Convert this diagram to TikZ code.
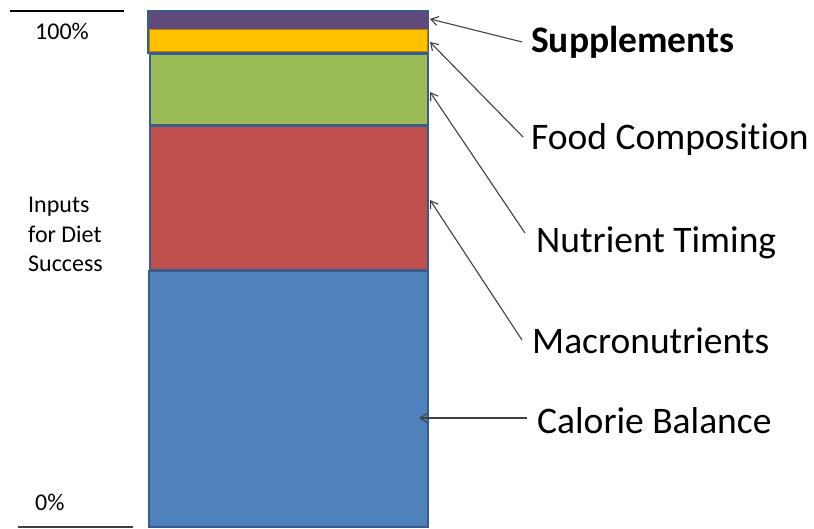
\documentclass[tikz,border=0pt]{standalone}
\usepackage{fontspec}
\setmainfont[Ligatures=NoCommon]{Carlito}
\usetikzlibrary{arrows.meta}
\definecolor{cPurple}{HTML}{604A7B}
\definecolor{cYellow}{HTML}{FFC000}
\definecolor{cGreen}{HTML}{9BBB59}
\definecolor{cRed}{HTML}{C0504D}
\definecolor{cBlue}{HTML}{4F81BD}
\definecolor{cEdge}{HTML}{385D8A}
\definecolor{cArrow}{HTML}{404040}
\begin{document}
\begin{tikzpicture}[x=1pt,y=-1pt,
  seg/.style={draw=cEdge,line width=1.8pt},
  arr/.style={draw=cArrow,line width=1.1pt,-{Straight Barb[length=7pt,width=9pt]}},
  biglabel/.style={anchor=base west,inner sep=0pt,font=\fontsize{37.5}{40}\selectfont},
  smalllabel/.style={anchor=base west,inner sep=0pt,font=\fontsize{24}{29.5}\selectfont},
  rule/.style={draw=black,line width=1.2pt}]
\useasboundingbox (0,0) rectangle (814,529);
% bar segments
\path[seg,fill=cBlue]   (149,271) rectangle (428,527);
\path[seg,fill=cRed]    (150,126) rectangle (428,270);
\path[seg,fill=cGreen]  (150,54)  rectangle (428,125);
\path[seg,fill=cPurple] (148,11)  rectangle (428,53);
\path[draw=cYellow!70!black,line width=1pt,fill=cYellow] (149,30) rectangle (427,52);
% left rules and labels
\draw[rule] (10,11) -- (124,11);
\draw[rule,draw=black!75] (18,527) -- (133,527);
\node[smalllabel] (top) at (35,40) {100\%};
\node[smalllabel] (bot) at (35,510) {0\%};
\node[smalllabel,align=left,anchor=north west] (inp) at (28,197) {Inputs\\for Diet\\Success};
% right labels
\node[biglabel] (supp) at (531,53) {\textbf{Supplements}};
\node[biglabel] (food) at (531,150) {Food Composition};
\node[biglabel] (nutr) at (536,253) {Nutrient Timing};
\node[biglabel] (macro) at (532,353) {Macronutrients};
\node[biglabel] (cal) at (537,433) {Calorie Balance};
% arrow tips on the bar
\coordinate (tS) at (430,19);
\coordinate (tF) at (430,42);
\coordinate (tN) at (430,92);
\coordinate (tM) at (430,200);
\coordinate (tC) at (419,418);
% arrow tails
\coordinate (sS) at (522,42);
\coordinate (sF) at (523,137);
\coordinate (sN) at (525,233);
\coordinate (sM) at (522,340);
\coordinate (sC) at (527,418);
\draw[arr] (sS) -- (tS);
\draw[arr] (sF) -- (tF);
\draw[arr] (sN) -- (tN);
\draw[arr] (sM) -- (tM);
\draw[arr] (sC) -- (tC);
\end{tikzpicture}
\end{document}
